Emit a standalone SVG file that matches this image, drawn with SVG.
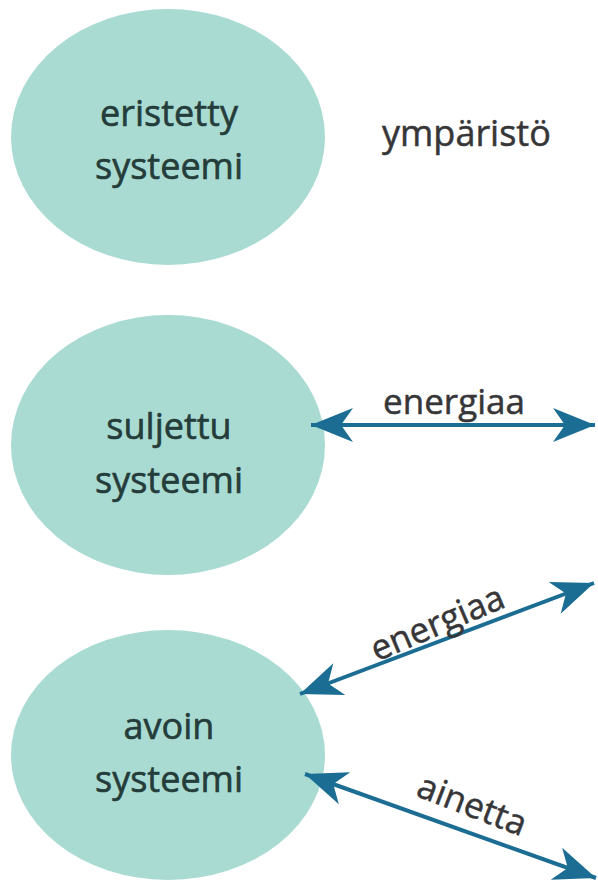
<svg xmlns="http://www.w3.org/2000/svg" width="598" height="883" viewBox="0 0 598 883">
<defs>
<style>
.node ellipse{fill:#a9dbd3}
.lbl{font-family:"Open Sans","Noto Sans",sans-serif;font-size:36px;fill:#253d3a;stroke:#253d3a;stroke-width:0.6;text-anchor:middle}
.env{font-family:"Open Sans","Noto Sans",sans-serif;font-size:36px;fill:#363638;stroke:#363638;stroke-width:0.5}
.elbl{font-family:"Open Sans","Noto Sans",sans-serif;font-size:35px;fill:#363638;stroke:#363638;stroke-width:0.5;text-anchor:middle}
.conn{stroke:#1b6d93;stroke-width:4;fill:none;marker-start:url(#ah);marker-end:url(#ah)}
</style>
<marker id="ah" markerUnits="userSpaceOnUse" viewBox="-44 -20 46 40" markerWidth="46" markerHeight="40" refX="0" refY="0" orient="auto-start-reverse">
<path d="M0,0 L-42,-17 L-30,0 L-42,17 Z" fill="#1b6d93"/>
</marker>
</defs>
<rect width="598" height="883" fill="#ffffff"/>
<g id="eristetty" class="node">
<ellipse cx="168" cy="137" rx="157" ry="128"/>
<text class="lbl" x="169" y="126">eristetty</text>
<text class="lbl" x="169" y="179">systeemi</text>
</g>
<g id="ymparisto">
<text class="env" x="382" y="146">ympäristö</text>
</g>
<g id="suljettu" class="node">
<ellipse cx="168" cy="445" rx="157" ry="130"/>
<text class="lbl" x="169" y="439">suljettu</text>
<text class="lbl" x="169" y="493">systeemi</text>
</g>
<g id="avoin" class="node">
<ellipse cx="168" cy="755" rx="157" ry="125"/>
<text class="lbl" x="169" y="739">avoin</text>
<text class="lbl" x="169" y="792">systeemi</text>
</g>
<g id="connectors">
<line class="conn" x1="311" y1="425" x2="595" y2="425"/>
<text class="elbl" x="454" y="414">energiaa</text>
<line class="conn" x1="300" y1="694" x2="594" y2="583"/>
<text class="elbl" transform="translate(442,634) rotate(-23)">energiaa</text>
<line class="conn" x1="305" y1="774" x2="596" y2="878"/>
<text class="elbl" transform="translate(468,816) rotate(21)">ainetta</text>
</g>
</svg>
